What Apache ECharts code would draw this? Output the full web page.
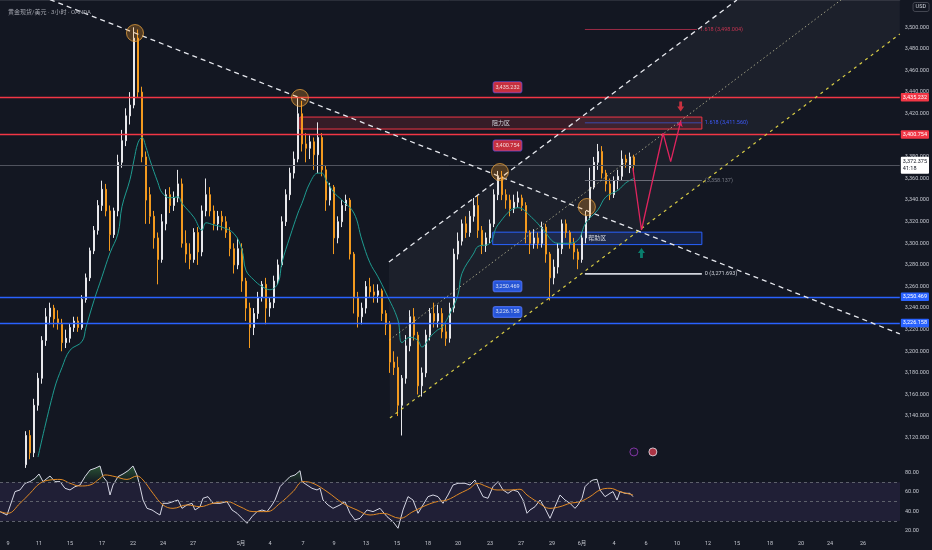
<!DOCTYPE html>
<html><head><meta charset="utf-8">
<script src="https://cdn.jsdelivr.net/npm/echarts@6/dist/echarts.min.js"></script>
<style>html,body{margin:0;padding:0;background:#131722;}#c{width:932px;height:550px;}</style>
</head><body><div id="c"></div>
<script>
// ---------- DATA ----------
const headerText = '黄金现货/美元 · 3小时 · OANDA';
// 3h-ish bars: [open, close, low, high]
const ohlc = [
[3020,3035,3015,3045],[3035,3050,3030,3058],[3050,3065,3044,3070],[3065,3080,3060,3086],[3080,3074,3068,3088],
[3074,3095,3070,3100],[3095,3122,3092,3126],[3122,3106,3100,3127],[3106,3150,3102,3156],[3150,3175,3145,3180],
[3175,3210,3170,3214],[3210,3232,3205,3240],[3232,3240,3225,3245],[3240,3230,3222,3243],[3230,3226,3220,3238],
[3226,3208,3200,3230],[3208,3212,3203,3220],[3212,3222,3208,3226],[3222,3228,3218,3232],[3228,3222,3218,3232],
[3222,3248,3220,3252],[3248,3268,3245,3272],[3268,3293,3265,3296],[3293,3312,3290,3316],[3312,3335,3308,3340],
[3335,3350,3330,3358],[3350,3330,3325,3355],[3330,3308,3293,3335],[3308,3330,3305,3333],[3330,3375,3325,3382],
[3375,3395,3370,3405],[3395,3418,3390,3425],[3418,3428,3410,3440],[3428,3490,3425,3500],[3490,3440,3435,3498],
[3440,3380,3375,3445],[3380,3340,3318,3385],[3345,3325,3318,3352],[3325,3305,3295,3330],[3305,3285,3262,3310],
[3285,3320,3282,3327],[3318,3345,3312,3350],[3345,3335,3328,3352],[3335,3342,3330,3348],[3342,3355,3338,3368],
[3355,3300,3296,3360],[3300,3290,3282,3312],[3290,3285,3276,3300],[3285,3310,3282,3314],[3310,3292,3280,3315],
[3292,3330,3288,3335],[3330,3345,3325,3360],[3345,3330,3325,3352],[3330,3318,3312,3335],[3318,3325,3312,3330],
[3325,3320,3312,3330],[3320,3310,3305,3325],[3310,3295,3288,3315],[3295,3280,3272,3300],[3280,3295,3276,3305],
[3295,3265,3255,3300],[3265,3240,3228,3268],[3240,3222,3203,3245],[3222,3235,3215,3240],[3235,3250,3230,3255],
[3250,3262,3246,3265],[3262,3240,3225,3268],[3240,3245,3232,3250],[3245,3265,3240,3270],[3265,3280,3262,3285],
[3280,3320,3278,3325],[3320,3345,3316,3350],[3345,3365,3340,3370],[3365,3378,3360,3385],[3378,3420,3375,3435],
[3420,3392,3385,3432],[3392,3388,3375,3402],[3388,3394,3378,3400],[3394,3382,3368,3398],[3382,3398,3365,3412],
[3398,3368,3362,3402],[3368,3340,3330,3372],[3340,3352,3335,3356],[3352,3305,3290,3354],[3305,3320,3300,3325],
[3320,3335,3315,3340],[3335,3340,3330,3345],[3340,3290,3285,3342],[3290,3250,3235,3292],[3250,3232,3222,3255],
[3232,3240,3225,3245],[3240,3260,3235,3265],[3260,3255,3250,3268],[3255,3252,3245,3262],[3252,3256,3245,3262],
[3256,3235,3228,3258],[3235,3225,3215,3238],[3225,3190,3180,3228],[3190,3185,3178,3200],[3185,3150,3140,3195],
[3150,3175,3122,3178],[3175,3205,3170,3215],[3205,3232,3200,3238],[3232,3215,3210,3240],[3215,3168,3160,3218],
[3168,3180,3158,3185],[3180,3215,3176,3220],[3215,3235,3210,3240],[3235,3228,3222,3245],[3228,3235,3222,3243],
[3235,3218,3212,3240],[3218,3212,3205,3225],[3212,3240,3208,3245],[3240,3290,3236,3295],[3290,3302,3285,3310],
[3302,3318,3298,3322],[3318,3310,3305,3325],[3310,3325,3306,3330],[3325,3335,3320,3342],[3335,3312,3305,3345],
[3312,3298,3290,3316],[3298,3305,3292,3310],[3305,3318,3300,3322],[3318,3345,3315,3350],[3345,3362,3340,3367],
[3362,3345,3340,3367],[3345,3340,3332,3350],[3340,3332,3325,3345],[3332,3338,3328,3345],[3338,3342,3333,3348],
[3342,3335,3330,3345],[3335,3310,3300,3338],[3310,3300,3290,3312],[3300,3305,3295,3313],[3305,3300,3295,3310],
[3300,3315,3296,3320],[3315,3290,3282,3318],[3290,3268,3247,3292],[3268,3278,3262,3285],[3278,3295,3272,3300],
[3295,3318,3290,3322],[3318,3310,3305,3322],[3310,3300,3295,3312],[3300,3292,3285,3305],[3292,3285,3276,3295],
[3285,3305,3282,3310],[3305,3325,3300,3330],[3325,3352,3322,3370],[3352,3375,3350,3380],[3375,3385,3368,3392],
[3385,3365,3360,3390],[3365,3355,3348,3368],[3355,3345,3340,3360],[3345,3358,3342,3362],[3358,3362,3350,3368],
[3362,3378,3358,3386],[3378,3375,3370,3382],[3370,3380,3365,3384],[3380,3372.375,3365,3382]
];
const totalSlots = 225; // bar slots incl. empty future space
// moving average on price [barIndex, price]
const maPoints = [[9,3102],[13,3164],[15,3185],[17,3201],[20,3209],[21,3222],[23,3247],[25,3269],[27,3291],[29,3309],[30,3334],[32,3359],[33,3377],[34,3393],[35,3398],[36,3389],[37,3377],[39,3356],[40,3347],[42,3342],[44,3343],[45,3337],[48,3324],[50,3312],[51,3319],[53,3317],[55,3315],[58,3309],[60,3294],[61,3275],[63,3266],[65,3260],[67,3257],[69,3263],[70,3282],[72,3306],[74,3328],[75,3337],[77,3356],[79,3365],[80,3365],[81,3359],[83,3347],[85,3340],[88,3328],[90,3303],[92,3282],[94,3269],[96,3254],[99,3229],[100,3208],[102,3213],[104,3210],[105,3204],[107,3213],[109,3220],[110,3222],[112,3235],[114,3252],[115,3272],[118,3291],[119,3297],[122,3300],[124,3317],[129,3333],[133,3322],[135,3314],[139,3300],[141,3300],[144,3303],[146,3319],[149,3331],[151,3343],[154,3349],[156,3356],[158,3360]];
// RSI [barIndex, value]
const rsiPoints = [[-0.5,39.7],[1.25,36.2],[3.25,60.4],[4.5,62.1],[5.75,69],[7,70.7],[8.25,74.1],[9.25,78.6],[10.25,70.7],[12,76.5],[13.25,70.7],[14.5,70.7],[15.75,63.8],[17,62.1],[18.25,65.5],[19.5,67.2],[20.75,75.9],[22,82.7],[23.25,84.5],[24.5,86.9],[25.25,75.9],[26.25,70.7],[27,56.9],[27.75,67.2],[29,75.9],[30.25,78.6],[31.5,82],[32.75,86.9],[33.75,77.6],[34.5,65.5],[35.25,51.7],[36.25,43.1],[37.5,41.4],[38.75,38],[39.5,36.2],[40.25,48.3],[41.5,48.3],[42.75,50],[44,51.7],[45,43.1],[46.25,46.6],[47.5,48.3],[48.25,41.4],[49.5,44.8],[50.25,53.5],[51.5,55.2],[52.75,48.3],[54.5,48.3],[56.25,50],[57.5,41.4],[58.75,38],[60,32.8],[61.25,27.6],[62.5,34.5],[63.75,39.7],[65,41.4],[66.25,39.7],[67.5,46.6],[68.25,51.7],[69.5,65.5],[70.75,70.7],[72,75.9],[73.25,77.6],[74.5,82],[75,70.7],[76.25,67.2],[77.5,63.8],[78.75,62.1],[79.5,63.8],[80.25,51.7],[81.5,46.6],[82.75,43.1],[84.5,46.6],[85.75,50],[87,38],[88.25,31.1],[89.5,32.8],[91.25,41.4],[92.75,39.7],[94.5,43.1],[96.25,34.5],[97.75,29.3],[99,22.5],[100.25,41.4],[101.5,55.2],[102.75,51.7],[104,38],[105.25,46.6],[106.5,55.2],[107.75,56.9],[109,55.2],[110.25,48.3],[111.5,56.9],[112.75,67.2],[114,69],[114.5,70.7],[115.75,69],[117,67.2],[118.25,72.4],[119,65.5],[120.25,55.2],[121.5,53.5],[122.75,65.5],[124,70.7],[125.25,62.1],[126.5,58.6],[127.75,62.1],[129,60.4],[130.25,51.7],[131.25,38],[132,41.4],[133.25,44.8],[134.5,51.7],[135.75,43.1],[137,32.8],[138.25,44.8],[139.5,56.9],[140.75,51.7],[142,48.3],[143.25,43.1],[144,46.6],[145,53.5],[145.75,65.5],[147,70.7],[147.75,72.4],[148.75,73.1],[149.5,62.1],[150.75,55.2],[152,58.6],[152.75,60.4],[153.75,51.7],[154.5,60.4],[155.75,58.6],[157,58.6],[157.75,55.2]];
const rsiMaPoints = [[-0.5,39.7],[1.5,38],[4.5,48.3],[7,58.6],[9.5,69],[12,72.4],[14.5,73],[17,69],[19.5,66.2],[22,67.2],[24.5,74.1],[25.75,77.6],[28.25,75.9],[31.25,73],[33.75,76.5],[35.25,72.4],[37.75,58.6],[40.25,46.6],[42.75,43.1],[46.25,46.6],[49.5,44.8],[52.75,48.3],[56.25,50],[59.5,44.8],[62.75,39.7],[66.25,39.7],[69.5,48.3],[72.75,60.4],[75.25,70.7],[77.75,69],[81.25,60.4],[85.25,48.3],[88.75,41.4],[92,36.2],[95.25,38],[99.5,32.8],[102.75,39.7],[106.25,46.6],[108.75,50],[111.25,51.7],[114.5,58.6],[117,63.8],[118.75,69],[121.25,65.5],[123.75,62.1],[127,62.1],[129.5,62.8],[131.25,56.9],[133.75,50],[137,43.1],[139.5,44.8],[142,48.3],[144.5,50],[147,55.2],[149.5,62.1],[152,63.8],[154.5,60.4],[157.75,56.9]];
// axis ticks
const priceTicks = [3120,3140,3160,3180,3200,3220,3240,3260,3280,3300,3320,3340,3360,3380,3400,3420,3440,3460,3480,3500];
const rsiTicks = [20,40,60,80];
const rsiLevels = [70,50,30];
const dateTickIdx = [1.5,9.25,17,25,32.75,40.25,47.75,59.75,67,75.25,83,91,98.75,106.5,114,122,129.75,137.5,145,153,161,168.75,176.5,183.75,192,199.75,207,215.25];
const dateTickText = ['9','11','15','17','22','24','27','5月','4','7','9','13','15','18','20','23','27','29','6月','4','6','10','12','15','18','20','24','26'];
// levels
const resistLevels = [3435.232, 3400.754];
const supportLevels = [3250.469, 3226.158];
const currentPrice = 3372.375;
const countdown = '41:18';
// drawings [barIndex, price]
const descLine = [[12,3525.7],[224.5,3216.1]];
const chanUpper = [[96.75,3282.7],[183.75,3525.3]];
const chanLower = [[97,3138.2],[224.5,3493.8]];
const chanMid = [[96.9,3210.5],[224.5,3566.4]];
const chanPoly = [[96.75,3282.7],[224.5,3639.0],[224.5,3493.8],[97,3138.2]];
const resistZone = [[74.5,3416.9],[175,3405.8]];
const supportZone = [[122.7,3310.3],[175,3298.8]];
const zoneNames = ['阻力区','帮助区'];
const fibSpan = [145.75, 175];
const fibs = [{lvl:'1.618', p:3498.004},{lvl:'1.618', p:3411.560},{lvl:'', p:3358.137},{lvl:'0', p:3271.693}];
const pillIdx = 126.4;
const circlePts = [[33.25,3494.7],[74.5,3434.6],[124.5,3366],[146.25,3333.6]];
const projection = [[157.75,3369.7],[159.9,3312.3],[165.3,3401.9],[167.2,3375.6],[169.75,3413.5]];
const downArrowPt = [169.7,3426.7];
const upArrowPt = [159.9,3291];
const eventPts = [[158,3106.8],[162.75,3106.8]];

// ---------- CHART ----------
const fmt3 = v => v.toLocaleString('en-US',{minimumFractionDigits:3,maximumFractionDigits:3});
const RED='#f23645', BLUE='#2962ff', FONT='Roboto, "Noto Sans CJK SC", sans-serif';
const chart = echarts.init(document.getElementById('c'), null, {renderer:'canvas'});

const lvlLabel = (bg, fg) => ({show:true, position:'end', distance:1, fontSize:5.5, color:fg, backgroundColor:bg, padding:[2,2,1,2], borderRadius:1});
const markLines = [];
resistLevels.forEach(v => markLines.push({yAxis:v, lineStyle:{color:RED,width:1.3,type:'solid'}, label:Object.assign(lvlLabel(RED,'#fff'),{formatter:fmt3(v)})}));
supportLevels.forEach(v => markLines.push({yAxis:v, lineStyle:{color:BLUE,width:1.3,type:'solid'}, label:Object.assign(lvlLabel(BLUE,'#fff'),{formatter:fmt3(v)})}));
markLines.push({yAxis:currentPrice, lineStyle:{color:'#50535e',width:1,type:'solid'}, label:Object.assign(lvlLabel('#ffffff','#131722'),{formatter:fmt3(currentPrice)+'\n'+countdown, lineHeight:7})});

const fibColors = [['#9b2c45','#c23350'],['#3949ab','#3d5afe'],['#6a6d78','#787b86'],['#d1d4dc','#d1d4dc']];
const fibSeries = fibs.map((f,k) => ({
  type:'line', xAxisIndex:1, yAxisIndex:0, symbol:'none', silent:true, z:4,
  data:[[fibSpan[0],f.p],[fibSpan[1] - (k===0?1.25:0),f.p]],
  lineStyle:{color:fibColors[k][0], width:k===3?1.6:1},
  endLabel:{show:true, distance:3, fontSize:5.5, color:fibColors[k][1], formatter:(f.lvl?f.lvl+' ':'')+'('+fmt3(f.p)+')'}
}));

const pillData = [
  {value:[pillIdx,resistLevels[0]], name:fmt3(resistLevels[0]), label:{offset:[0,-10],backgroundColor:RED,borderColor:'#6b4fd8'}},
  {value:[pillIdx,resistLevels[1]], name:fmt3(resistLevels[1]), label:{offset:[0,11],backgroundColor:RED,borderColor:'#6b4fd8'}},
  {value:[pillIdx,supportLevels[0]], name:fmt3(supportLevels[0]), label:{offset:[0,-10.5],backgroundColor:BLUE,borderColor:'#5c7cff'}},
  {value:[pillIdx,supportLevels[1]], name:fmt3(supportLevels[1]), label:{offset:[0,-11],backgroundColor:BLUE,borderColor:'#5c7cff'}}
];

const projData = projection.map((p,i) => i===projection.length-1 ? {value:p, symbol:'arrow', symbolSize:[5,6], symbolRotate:-14} : {value:p, symbol:'none'});

const option = {
  backgroundColor:'#131722',
  animation:false,
  textStyle:{fontFamily:FONT},
  title:[
    {text:headerText, left:3, top:4, textStyle:{fontSize:6, color:'#a3a6af', fontWeight:'normal', fontFamily:FONT}},
    {text:'USD', right:3, top:2, padding:[2,3], borderColor:'#434651', borderWidth:1, borderRadius:2, backgroundColor:'#131722', textStyle:{fontSize:5.5, color:'#d1d4dc', fontWeight:'normal', fontFamily:FONT}}
  ],
  grid:[
    {left:0, right:32, top:0, height:457},
    {left:0, right:32, top:459, height:77},
    {left:0, right:32, top:459, height:23.3}
  ],
  xAxis:[
    {type:'category', gridIndex:0, data:Array.from({length:totalSlots},(_,i)=>i), boundaryGap:true, show:false},
    {type:'value', gridIndex:0, min:-0.5, max:totalSlots-0.5, axisLine:{show:true, lineStyle:{color:'#2a2e39', width:1}}, axisTick:{show:false}, axisLabel:{show:false}, splitLine:{show:false}},
    {type:'value', gridIndex:1, min:-0.5, max:totalSlots-0.5, axisLine:{show:false}, axisTick:{show:false}, splitLine:{show:false},
      axisLabel:{customValues:dateTickIdx, margin:5, fontSize:5.5, color:'#c3c6ce', fontFamily:FONT,
        formatter:v => { const k = dateTickIdx.findIndex(t => Math.abs(t - v) < 0.01); return k < 0 ? '' : dateTickText[k]; }}},
    {type:'value', gridIndex:2, min:-0.5, max:totalSlots-0.5, show:false}
  ],
  yAxis:[
    {type:'value', gridIndex:0, position:'right', min:3102.1, max:3525.3, splitLine:{show:false}, axisLine:{show:false}, axisTick:{show:false},
      axisLabel:{customValues:priceTicks, formatter:v=>fmt3(v), color:'#c3c6ce', fontSize:5.5, margin:5, fontFamily:FONT}},
    {type:'value', gridIndex:1, position:'right', min:14.5, max:94.1, splitLine:{show:false}, axisLine:{show:false}, axisTick:{show:false},
      axisLabel:{customValues:rsiTicks, formatter:v=>v.toFixed(2), color:'#c3c6ce', fontSize:5.5, margin:5, fontFamily:FONT}},
    {type:'value', gridIndex:2, min:70, max:94.1, show:false}
  ],
  series:[
    {type:'custom', xAxisIndex:1, yAxisIndex:0, clip:true, silent:true, z:1, data:[chanPoly[0]],
      renderItem:(params, api) => ({type:'polygon', shape:{points:chanPoly.map(p=>api.coord(p))}, style:{fill:'rgba(150,155,170,0.07)'}})},
    {type:'line', xAxisIndex:1, yAxisIndex:0, data:descLine, symbol:'none', silent:true, z:5,
      lineStyle:{color:'#e6e8ee', width:1.3, type:[5,4]},
      markLine:{silent:true, symbol:['none','none'], data:markLines},
      markArea:{silent:true, z:2, data:[
        [{xAxis:resistZone[0][0], yAxis:resistZone[0][1], name:zoneNames[0], itemStyle:{color:'rgba(242,54,69,0.16)', borderColor:RED, borderWidth:1}}, {xAxis:resistZone[1][0], yAxis:resistZone[1][1]}],
        [{xAxis:supportZone[0][0], yAxis:supportZone[0][1], name:zoneNames[1], itemStyle:{color:'rgba(41,98,255,0.16)', borderColor:BLUE, borderWidth:1}}, {xAxis:supportZone[1][0], yAxis:supportZone[1][1]}]
      ], label:{show:true, position:'inside', color:'#d1d4dc', fontSize:6, fontFamily:FONT}}},
    {type:'line', xAxisIndex:1, yAxisIndex:0, data:chanUpper, symbol:'none', silent:true, z:5, lineStyle:{color:'#e6e8ee', width:1.3, type:[5,4]}},
    {type:'line', xAxisIndex:1, yAxisIndex:0, data:chanLower, symbol:'none', silent:true, z:5, lineStyle:{color:'#d8cc45', width:1.2, type:[3,4]}},
    {type:'line', xAxisIndex:1, yAxisIndex:0, data:chanMid, symbol:'none', silent:true, z:5, lineStyle:{color:'rgba(215,212,170,0.7)', width:1, type:[1.5,2.5]}},
    {type:'candlestick', xAxisIndex:0, yAxisIndex:0, data:ohlc, barWidth:2.2, clip:true, z:3,
      itemStyle:{color:'#f2f2f2', color0:'#f39a1f', borderColor:'#e8e8ec', borderColor0:'#f39a1f', borderWidth:1}},
    {type:'line', xAxisIndex:1, yAxisIndex:0, data:maPoints, symbol:'none', smooth:0.4, silent:true, z:4, lineStyle:{color:'#1f9c91', width:1}},
    ...fibSeries,
    {type:'scatter', xAxisIndex:1, yAxisIndex:0, data:circlePts, symbolSize:17, silent:true, z:6,
      itemStyle:{color:'rgba(255,160,40,0.32)', borderColor:'rgba(230,160,60,0.95)', borderWidth:1}},
    {type:'scatter', xAxisIndex:1, yAxisIndex:0, data:pillData, symbolSize:2, silent:true, z:8, itemStyle:{color:'rgba(0,0,0,0)'},
      label:{show:true, position:'inside', formatter:'{b}', color:'#ffffff', fontSize:5.5, padding:[2.5,2], borderRadius:2, borderWidth:0.8, fontFamily:FONT}},
    {type:'line', xAxisIndex:1, yAxisIndex:0, data:projData, showSymbol:true, symbol:'none', silent:true, z:7,
      lineStyle:{color:'#e0245e', width:1.3}, itemStyle:{color:'#e0245e'}},
    {type:'scatter', xAxisIndex:1, yAxisIndex:0, silent:true, z:7, symbolSize:[7,10], data:[
      {value:downArrowPt, symbol:'path://M3,0 L7,0 L7,5 L10,5 L5,10 L0,5 L3,5 Z', itemStyle:{color:RED}},
      {value:upArrowPt, symbol:'path://M5,0 L10,5 L7,5 L7,10 L3,10 L3,5 L0,5 Z', itemStyle:{color:'#089981'}}
    ]},
    {type:'scatter', xAxisIndex:1, yAxisIndex:0, silent:true, z:7, symbolSize:8, data:[
      {value:eventPts[0], itemStyle:{color:'#1c1630', borderColor:'#9c3fc0', borderWidth:1}},
      {value:eventPts[1], itemStyle:{color:'#d23c4d', borderColor:'#e8e8f0', borderWidth:1}}
    ]},
    {type:'line', xAxisIndex:2, yAxisIndex:1, data:rsiPoints, symbol:'none', silent:true, z:4, lineStyle:{color:'#d5d6e4', width:1},
      markLine:{silent:true, symbol:['none','none'], label:{show:false}, lineStyle:{color:'#5d606b', type:[3,3], width:1}, data:rsiLevels.map(v=>({yAxis:v}))},
      markArea:{silent:true, data:[[{yAxis:rsiLevels[2], itemStyle:{color:'rgba(126,87,194,0.13)'}},{yAxis:rsiLevels[0]}]]}},
    {type:'line', xAxisIndex:2, yAxisIndex:1, data:rsiMaPoints, symbol:'none', smooth:0.4, silent:true, z:4, lineStyle:{color:'#e08a26', width:1}},
    {type:'line', xAxisIndex:3, yAxisIndex:2, data:rsiPoints, symbol:'none', silent:true, z:3, clip:true, lineStyle:{width:0},
      areaStyle:{origin:'start', color:new echarts.graphic.LinearGradient(0,459,0,482.3,[{offset:0,color:'rgba(76,175,80,0.8)'},{offset:1,color:'rgba(76,175,80,0.02)'}],true)}}
  ]
};
chart.setOption(option);
</script></body></html>
